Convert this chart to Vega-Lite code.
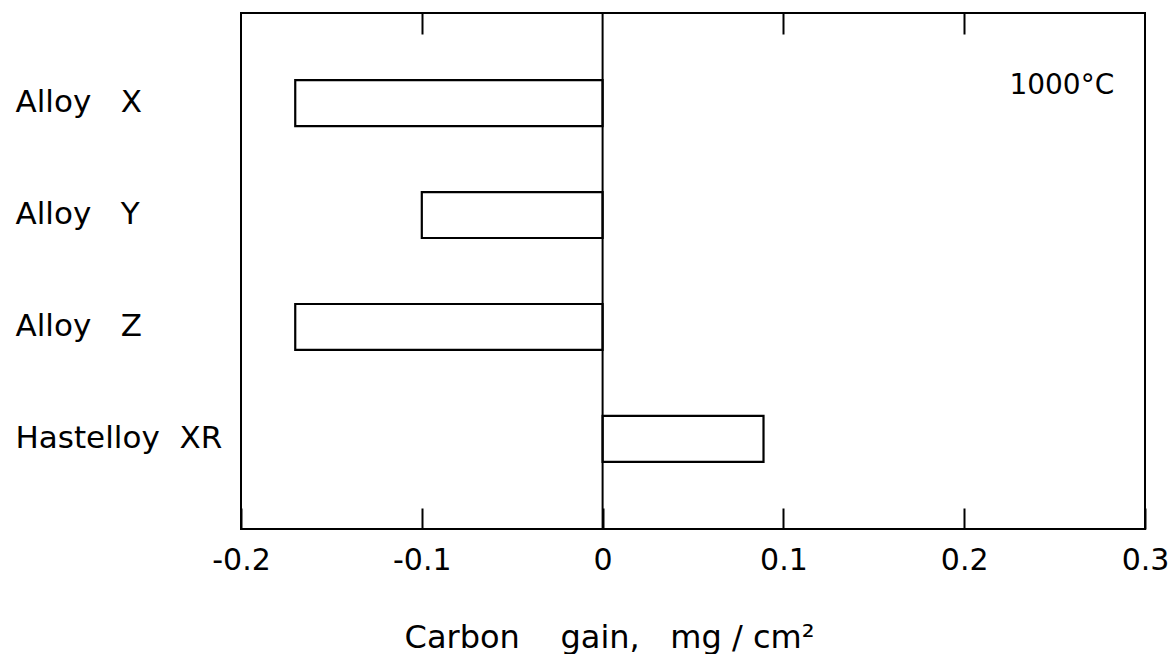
{
  "$schema": "https://vega.github.io/schema/vega-lite/v6.json",
  "width": 904,
  "height": 516,
  "autosize": {"type": "none"},
  "padding": {"left": 241, "top": 13, "right": 24, "bottom": 125},
  "background": "white",
  "config": {
    "view": {"stroke": "black", "strokeWidth": 2},
    "font": "DejaVu Sans",
    "axis": {"labelColor": "black", "titleColor": "black", "labelFont": "DejaVu Sans", "titleFont": "DejaVu Sans", "grid": false, "domain": false}
  },
  "datasets": {
    "bars": [
      {"alloy": "Alloy X", "gain": -0.17},
      {"alloy": "Alloy Y", "gain": -0.10},
      {"alloy": "Alloy Z", "gain": -0.17},
      {"alloy": "Hastelloy XR", "gain": 0.089}
    ],
    "zero": [{"x": 0}],
    "note": [{"alloy": "Alloy X", "x": 0.254, "text": "1000°C"}]
  },
  "layer": [
    {
      "data": {"name": "bars"},
      "mark": {"type": "bar", "fill": "white", "stroke": "black", "strokeWidth": 2.2, "cornerRadius": 0},
      "encoding": {
        "y": {
          "field": "alloy", "type": "nominal", "sort": null,
          "scale": {"paddingInner": 0.59, "paddingOuter": 0.6},
          "axis": {
            "title": null, "ticks": false, "labelAlign": "left", "labelPadding": 226,
            "labelBaseline": "middle", "labelFontSize": 31, "labelLimit": 400,
            "labelExpr": "datum.label == 'Hastelloy XR' ? 'Hastelloy\u00a0\u00a0XR' : replace(datum.label, ' ', '\u00a0\u00a0\u00a0')"
          }
        },
        "x": {
          "field": "gain", "type": "quantitative",
          "scale": {"domain": [-0.2, 0.3], "nice": false, "zero": false},
          "axis": {
            "orient": "bottom",
            "title": "Carbon\u00a0\u00a0\u00a0\u00a0gain,\u00a0\u00a0\u00a0mg\u00a0/\u00a0cm²",
            "titleFontSize": 32, "titleFontWeight": "normal",
            "titleX": 368, "titleY": 118, "titleBaseline": "alphabetic", "titleAlign": "center", "titleAnchor": null,
            "values": [-0.2, -0.1, 0, 0.1, 0.2, 0.3],
            "labelFontSize": 30, "labelPadding": 37, "labelFlush": false,
            "labelExpr": "datum.value == 0 ? '0' : (datum.value < 0 ? '-' + format(-datum.value, '.1f') : format(datum.value, '.1f'))",
            "tickSize": -21, "tickColor": "black", "tickWidth": 2
          }
        }
      }
    },
    {
      "data": {"name": "zero"},
      "mark": {"type": "rule", "stroke": "black", "strokeWidth": 2},
      "encoding": {
        "x": {
          "field": "x", "type": "quantitative",
          "axis": {
            "orient": "top", "title": null, "labels": false,
            "values": [-0.1, 0.1, 0.2],
            "tickSize": -21, "tickColor": "black", "tickWidth": 2
          }
        }
      }
    },
    {
      "data": {"name": "note"},
      "mark": {"type": "text", "fontSize": 28, "dy": -17, "align": "center", "baseline": "middle", "color": "black"},
      "encoding": {
        "x": {"field": "x", "type": "quantitative", "axis": null},
        "y": {"field": "alloy", "type": "nominal", "sort": null},
        "text": {"field": "text"}
      }
    }
  ],
  "resolve": {"axis": {"x": "independent"}}
}
